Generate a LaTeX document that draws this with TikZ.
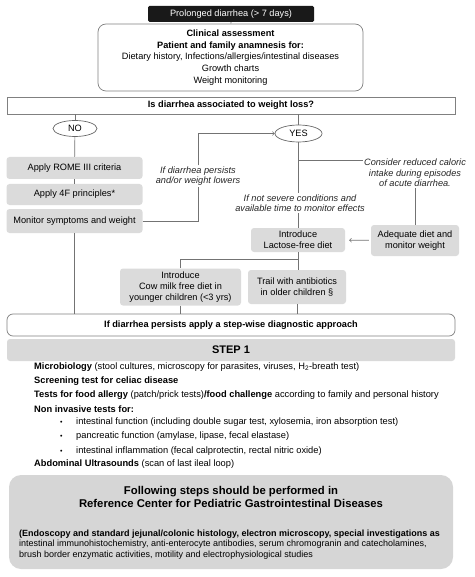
\documentclass[tikz,border=0pt]{standalone}
\usepackage{fontspec}
\setmainfont{Liberation Sans}
\usetikzlibrary{shapes.geometric}

\begin{document}
\begin{tikzpicture}[x=1pt, y=-1pt, font=\fontsize{9.2}{11}\selectfont,
  line/.style = {draw=black!55, line width=0.7pt},
  gbox/.style = {fill=black!14, rounded corners=3pt, align=center, inner sep=1pt, minimum width=136pt, minimum height=22pt},
  wbox/.style = {draw=black!50, line width=0.7pt, fill=white, align=center, inner sep=1pt},
  ell/.style = {draw=black!60, line width=0.7pt, ellipse, inner sep=0pt},
  note/.style = {font=\fontsize{9.2}{10.5}\selectfont\itshape, align=center, inner sep=1pt, text=black!85},
  txt/.style = {anchor=west, inner sep=0pt, font=\fontsize{9.3}{10}\selectfont}]
\useasboundingbox (0,0) rectangle (474,577);

% top part
\node[fill=black!90, text=white, rounded corners=1.5pt, minimum width=166pt, minimum height=16pt, inner sep=0pt] (start) at (231,14) {Prolonged diarrhea (> 7 days)};
\node[wbox, rounded corners=8pt, minimum width=265pt, minimum height=67pt, font=\fontsize{9.2}{11.8}\selectfont] (clin) at (230.5,57.5)
  {\textbf{Clinical assessment}\\\textbf{Patient and family anamnesis for:}\\Dietary history, Infections/allergies/intestinal diseases\\Growth charts\\Weight monitoring};
\node[wbox, minimum width=448pt, minimum height=17pt, inner sep=0pt] (q) at (231,105.5) {\textbf{Is diarrhea associated to weight loss?}};

\node[ell, minimum width=44pt, minimum height=16pt] (no) at (75,128.5) {NO};
\node[ell, minimum width=47pt, minimum height=17pt] (yes) at (298.5,133.5) {YES};

\draw[line] (start) -- (clin);
\draw[line] (no |- q.south) -- (no);
\draw[line] (yes |- q.south) -- (yes);

% NO branch
\node[gbox] (rome) at (74.5,168) {Apply ROME III criteria};
\node[gbox, minimum height=21pt] (four) at (74.5,194.5) {Apply 4F principles*};
\node[gbox, minimum height=24pt] (mon) at (74.5,221) {Monitor symptoms and weight};
\draw[line] (no) -- (rome);
\draw[line] (rome) -- (four);

\node[note] (pers) at (198,176) {If diarrhea persists\\and/or weight lowers};
\draw[line] (mon.east) -| (pers.south);
\draw[line, ->] (pers.north) |- (yes.west);

% YES branch
\node[note] (cons) at (415,173) {Consider reduced caloric\\intake during episodes\\of acute diarrhea.};
\node[note] (sev) at (300,203) {If not severe conditions and\\available time to monitor effects};
\coordinate (br) at (298.5,160);
\draw[line] (yes) -- (sev.north -| yes);
\draw[line] (br) -- (cons.west |- br);

\node[gbox, minimum width=88pt, minimum height=31pt] (adeq) at (415,240.5) {Adequate diet and\\monitor weight};
\node[gbox, minimum width=94pt, minimum height=24pt] (lact) at (298,240) {Introduce\\Lactose-free diet};
\draw[line] (cons.south -| adeq) -- (adeq);
\draw[line] (sev.south -| lact) -- (lact);
\draw[line, ->, shorten <=2pt, shorten >=4pt] (adeq) -- (lact);

\node[gbox, minimum width=121pt, minimum height=37pt] (cow) at (180.5,287) {Introduce\\Cow milk free diet in\\younger children (<3 yrs)};
\node[gbox, minimum width=98pt, minimum height=34pt] (trail) at (297,287) {Trail with antibiotics\\in older children \S};
\coordinate (split) at (298,259);
\draw[line] (lact.south) -- (lact.south |- trail.north);
\draw[line] (split) -| (cow.north);

% step-wise part
\node[wbox, rounded corners=6pt, minimum width=448pt, minimum height=22pt, inner sep=0pt] (stepwise) at (231,325) {\textbf{If diarrhea persists apply a step-wise diagnostic approach}};
\draw[line] (mon) -- (mon |- stepwise.north);
\draw[line] (cow) -- (cow |- stepwise.north);
\draw[line] (trail) -- (trail |- stepwise.north);

\node[fill=black!15, rounded corners=3pt, minimum width=448pt, minimum height=22pt, inner sep=0pt, font=\fontsize{11}{12}\selectfont\bfseries] (s1) at (231,350) {STEP 1};

\node[txt] (micro) at (34,367) {\textbf{Microbiology} (stool cultures, microscopy for parasites, viruses, H\textsubscript{2}-breath test)};
\node[txt] (celiac) at (34,381) {\textbf{Screening test for celiac disease}};
\node[txt] (allergy) at (34,395) {\textbf{Tests for food allergy} (patch/prick tests)\textbf{/food challenge} according to family and personal history};
\node[txt] (noninv) at (34,409) {\textbf{Non invasive tests for:}};
\node[txt] (intfun) at (60,422) {\makebox[16pt][l]{\scriptsize\textbullet}intestinal function (including double sugar test, xylosemia, iron absorption test)};
\node[txt] (panc) at (60,436) {\makebox[16pt][l]{\scriptsize\textbullet}pancreatic function (amylase, lipase, fecal elastase)};
\node[txt] (infl) at (60,451) {\makebox[16pt][l]{\scriptsize\textbullet}intestinal inflammation (fecal calprotectin, rectal nitric oxide)};
\node[txt] (abd) at (34,464) {\textbf{Abdominal Ultrasounds} (scan of last ileal loop)};

% reference center
\node[fill=black!16, rounded corners=12pt, minimum width=444pt, minimum height=94pt] (refc) at (231,522) {};
\node[align=center, inner sep=0pt, font=\fontsize{11.3}{12.5}\selectfont\bfseries] (refhead) at (231,497) {Following steps should be performed in\\Reference Center for Pediatric Gastrointestinal Diseases};
\node[txt, align=left, font=\fontsize{9}{10.5}\selectfont] (refbody) at (19,544.5) {\textbf{(Endoscopy and standard jejunal/colonic histology, electron microscopy, special investigations as}\\intestinal immunohistochemistry, anti-enterocyte antibodies, serum chromogranin and catecholamines,\\brush border enzymatic activities, motility and electrophysiological studies};
\end{tikzpicture}
\end{document}
